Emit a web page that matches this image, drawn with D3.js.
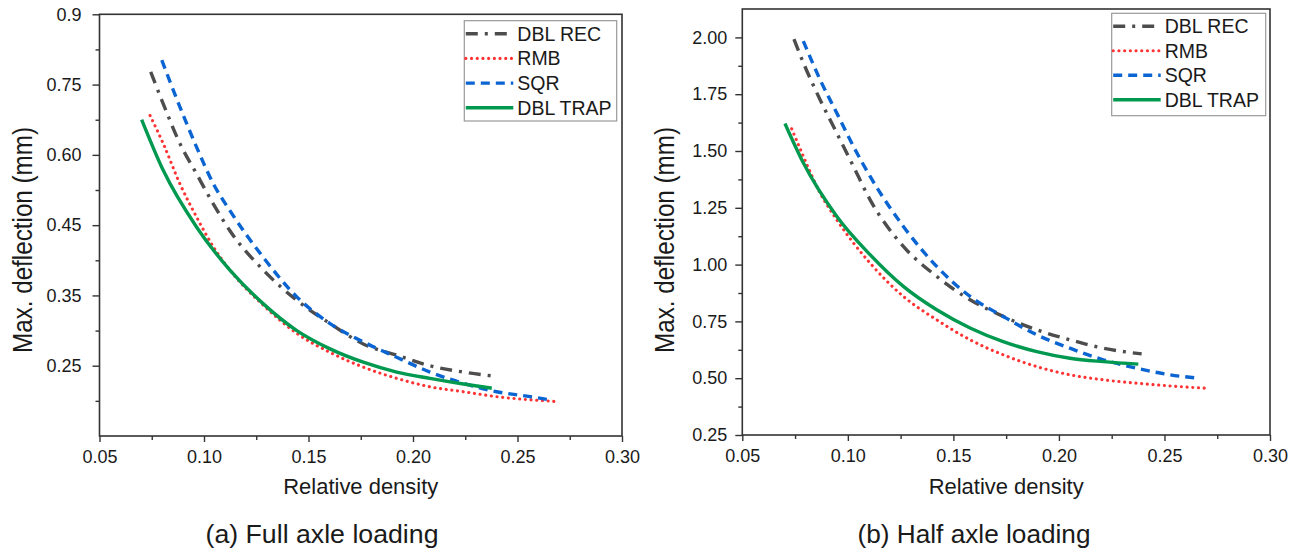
<!DOCTYPE html>
<html>
<head>
<meta charset="utf-8">
<script src="https://cdn.jsdelivr.net/npm/d3@7"></script>
<style>
   body { margin: 0; background: #fff; }
   svg text { font-family: "Liberation Sans", Arial, sans-serif; fill: #1a1a1a; }
   .tickLabel { font-size: 18px; }
   .axisTitle { font-size: 22px; }
   .yTitle { font-size: 27px; }
   .caption { font-size: 26px; }
   .legend { font-size: 19.5px; }
</style>
</head>
<body>
<div id="chart"></div>
<script>
const width = 1300;
const height = 551;

// x axis (relative density), shared by both panels
const xTicks = [0.05, 0.10, 0.15, 0.20, 0.25, 0.30];
const xMinor = [0.075, 0.125, 0.175, 0.225, 0.275];

// (a) full axle loading: the y labels are placed evenly, whatever their value
const fullBottom = 0.15;
const fullTicks = [0.25, 0.35, 0.45, 0.60, 0.75, 0.9];
const fullTickLabels = ["0.25", "0.35", "0.45", "0.60", "0.75", "0.9"];
const fullMinor = [0.20, 0.30, 0.40, 0.525, 0.675, 0.825];

// (b) half axle loading
const halfTicks = [0.25, 0.50, 0.75, 1.00, 1.25, 1.50, 1.75, 2.00];
const halfMinor = [0.375, 0.625, 0.875, 1.125, 1.375, 1.625, 1.875];

const seriesNames = ["DBL REC", "RMB", "SQR", "DBL TRAP"];

// [relative density, max deflection]
const fullRec = [[0.0745,0.777],[0.0805,0.709],[0.0885,0.624],[0.0965,0.559],[0.1045,0.495],[0.1124,0.442],
   [0.1284,0.386],[0.1444,0.343],[0.1603,0.310],[0.1762,0.281],[0.1922,0.265],[0.2081,0.250],[0.2241,0.241],[0.2392,0.235]];
const fullRmb = [[0.0742,0.684],[0.0805,0.624],[0.0885,0.538],[0.0965,0.467],[0.1045,0.419],[0.1124,0.386],
   [0.1284,0.336],[0.1444,0.296],[0.1603,0.269],[0.1762,0.248],[0.1922,0.232],[0.2081,0.220],[0.2241,0.213],[0.2400,0.206],[0.2688,0.199]];
const fullSqr = [[0.0798,0.802],[0.0885,0.702],[0.0965,0.616],[0.1045,0.538],[0.1124,0.481],[0.1284,0.404],
   [0.1444,0.348],[0.1603,0.310],[0.1762,0.284],[0.1922,0.262],[0.2081,0.241],[0.2241,0.225],[0.2400,0.213],[0.2560,0.206],[0.2663,0.201]];
const fullTrap = [[0.0702,0.675],[0.0805,0.567],[0.0965,0.447],[0.1124,0.386],[0.1284,0.338],[0.1444,0.300],
   [0.1603,0.274],[0.1762,0.255],[0.1922,0.241],[0.2081,0.232],[0.2241,0.224],[0.2377,0.218]];

const halfRec = [[0.0745,1.992],[0.0789,1.889],[0.0868,1.727],[0.0947,1.580],[0.1026,1.433],[0.1105,1.286],
   [0.1263,1.080],[0.1421,0.948],[0.1579,0.845],[0.1736,0.772],[0.1895,0.713],[0.2052,0.669],[0.2210,0.632],[0.2392,0.607]];
const halfRmb = [[0.0734,1.598],[0.0789,1.477],[0.0868,1.316],[0.0947,1.198],[0.1105,1.007],[0.1263,0.860],
   [0.1421,0.757],[0.1579,0.669],[0.1736,0.603],[0.1895,0.551],[0.2052,0.515],[0.2210,0.493],[0.2368,0.478],[0.2526,0.466],[0.2692,0.456]];
const halfSqr = [[0.0789,1.984],[0.0868,1.815],[0.0947,1.668],[0.1026,1.521],[0.1105,1.389],[0.1263,1.168],
   [0.1421,0.992],[0.1579,0.860],[0.1736,0.772],[0.1895,0.691],[0.2052,0.632],[0.2210,0.581],[0.2368,0.544],[0.2526,0.515],[0.2660,0.500]];
const halfTrap = [[0.0702,1.621],[0.0789,1.448],[0.0947,1.213],[0.1105,1.044],[0.1263,0.904],[0.1421,0.801],
   [0.1579,0.721],[0.1736,0.661],[0.1895,0.617],[0.2052,0.588],[0.2210,0.573],[0.2376,0.562]];

// line styles, same order as seriesNames
const styles = [
   {color: "#4d4d4d", width: 3.4, dash: "12,7,3,7", cap: "butt"},
   {color: "#ff3333", width: 3.1, dash: "0.1,5.6", cap: "round"},
   {color: "#0a64d2", width: 3.4, dash: "9,6", cap: "butt"},
   {color: "#00994f", width: 3.4, dash: null, cap: "butt"}
];

const svg = d3.select("#chart").append("svg")
   .attr("width", width)
   .attr("height", height);

function drawPanel(p) {
   const g = svg.append("g");

   const x = d3.scaleLinear()
      .domain([0.05, 0.30])
      .range([p.left, p.right]);
   const y = p.y;

   // data lines first, frame on top
   const line = d3.line()
      .x(d => x(d[0]))
      .y(d => y(d[1]))
      .curve(d3.curveMonotoneX);

   p.series.forEach((s, i) => {
      const st = styles[i];
      g.append("path")
         .datum(s)
         .attr("d", line)
         .attr("fill", "none")
         .attr("stroke", st.color)
         .attr("stroke-width", st.width)
         .attr("stroke-dasharray", st.dash)
         .attr("stroke-linecap", st.cap);
   });

   g.append("g")
      .attr("transform", `translate(0,${p.bottom})`)
      .call(d3.axisBottom(x).tickValues(xTicks).tickFormat(d3.format(".2f")).tickSize(6).tickPadding(8).tickSizeOuter(0));
   g.append("g")
      .attr("transform", `translate(0,${p.bottom})`)
      .call(d3.axisBottom(x).tickValues(xMinor).tickFormat("").tickSize(4).tickSizeOuter(0));

   g.append("g")
      .attr("transform", `translate(${p.left},0)`)
      .call(d3.axisLeft(y).tickValues(p.ticks).tickFormat(p.tickFormat).tickSize(7).tickPadding(p.yPad).tickSizeOuter(0));
   g.append("g")
      .attr("transform", `translate(${p.left},0)`)
      .call(d3.axisLeft(y).tickValues(p.minor).tickFormat("").tickSize(4).tickSizeOuter(0));

   g.selectAll(".domain").remove();
   g.selectAll(".tick line").attr("stroke", "#333").attr("stroke-width", 1.4);
   g.selectAll(".tick text")
      .attr("class", "tickLabel")
      .attr("font-family", null)
      .attr("font-size", null);

   // frame
   g.append("rect")
      .attr("x", p.left).attr("y", p.top)
      .attr("width", p.right - p.left).attr("height", p.bottom - p.top)
      .attr("fill", "none")
      .attr("stroke", "#333")
      .attr("stroke-width", 1.6);

   // legend
   const lg = p.legend;
   g.append("rect")
      .attr("x", lg.x).attr("y", lg.y)
      .attr("width", lg.w).attr("height", lg.h)
      .attr("fill", "#fff")
      .attr("stroke", "#999")
      .attr("stroke-width", 1.2);
   seriesNames.forEach((name, i) => {
      const st = styles[i];
      const ry = lg.y + 13 + i * lg.step;
      g.append("line")
         .attr("x1", lg.x + 1.5).attr("x2", lg.x + 49)
         .attr("y1", ry).attr("y2", ry)
         .attr("stroke", st.color)
         .attr("stroke-width", st.width)
         .attr("stroke-dasharray", st.dash)
         .attr("stroke-linecap", st.cap);
      g.append("text")
         .attr("class", "legend")
         .attr("x", lg.x + 53)
         .attr("y", ry)
         .attr("dy", "0.36em")
         .text(name);
   });

   // titles
   g.append("text")
      .attr("class", "axisTitle")
      .attr("x", (p.left + p.right) / 2)
      .attr("y", 494)
      .attr("textLength", 155)
      .attr("lengthAdjust", "spacingAndGlyphs")
      .style("text-anchor", "middle")
      .text("Relative density");
   g.append("text")
      .attr("class", "yTitle")
      .attr("transform", `translate(${p.left - 68},240) rotate(-90)`)
      .attr("textLength", 226)
      .attr("lengthAdjust", "spacingAndGlyphs")
      .style("text-anchor", "middle")
      .text("Max. deflection (mm)");
   g.append("text")
      .attr("class", "caption")
      .attr("x", p.captionX)
      .attr("y", 543)
      .attr("textLength", 233)
      .attr("lengthAdjust", "spacingAndGlyphs")
      .style("text-anchor", "middle")
      .text(p.caption);
}

// (a)
const fullStep = (436 - 14.3) / fullTicks.length;
drawPanel({
   left: 99.5, right: 622, top: 14.3, bottom: 436,
   y: d3.scaleLinear()
      .domain([fullBottom].concat(fullTicks))
      .range(d3.range(fullTicks.length + 1).map(i => 436 - i * fullStep)),
   ticks: fullTicks,
   tickFormat: (d, i) => fullTickLabels[i],
   minor: fullMinor,
   yPad: 11,
   series: [fullRec, fullRmb, fullSqr, fullTrap],
   legend: {x: 464.3, y: 20.7, w: 152.4, h: 100.3, step: 24.7},
   caption: "(a) Full axle loading",
   captionX: 322
});

// (b)
drawPanel({
   left: 742.3, right: 1270, top: 9, bottom: 435,
   y: d3.scaleLinear().domain([0.25, 2.125]).range([435, 9]),
   ticks: halfTicks,
   tickFormat: d3.format(".2f"),
   minor: halfMinor,
   yPad: 8,
   series: [halfRec, halfRmb, halfSqr, halfTrap],
   legend: {x: 1111.7, y: 13.3, w: 154, h: 102.4, step: 24.5},
   caption: "(b) Half axle loading",
   captionX: 974
});
</script>
</body>
</html>
